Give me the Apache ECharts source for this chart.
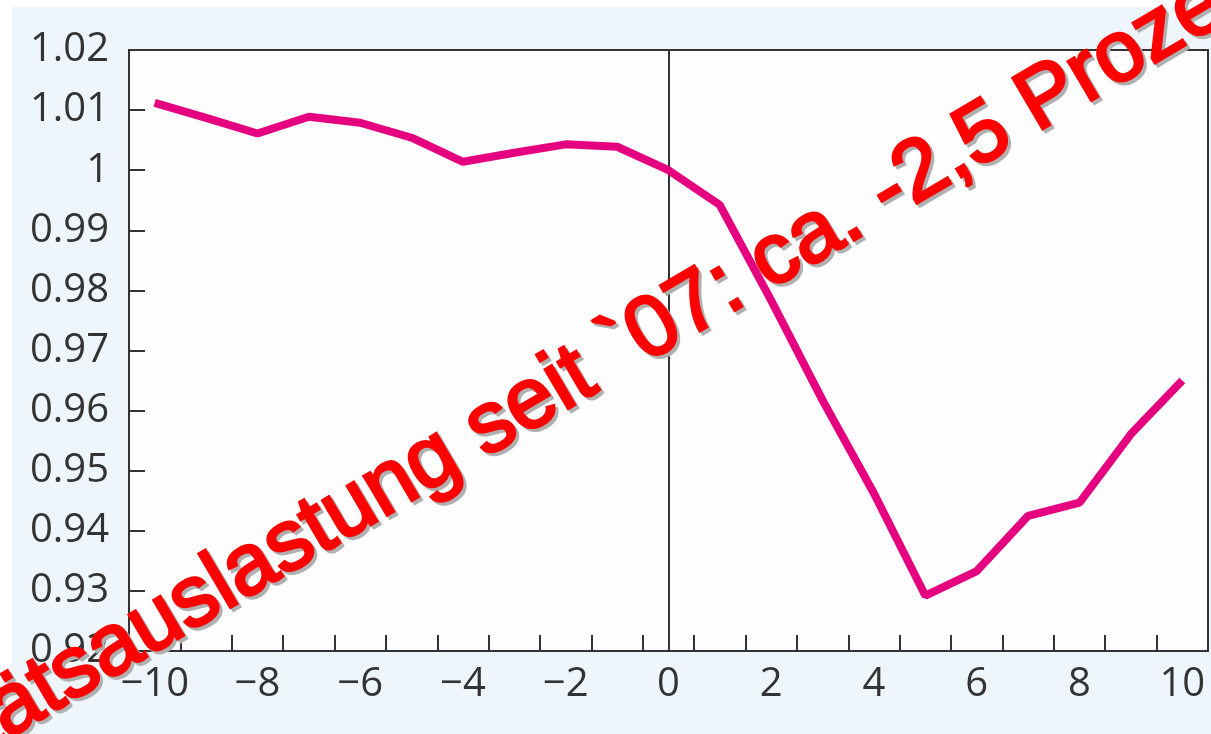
<!DOCTYPE html>
<html>
<head>
<meta charset="utf-8">
<script src="https://cdn.jsdelivr.net/npm/echarts@6/dist/echarts.min.js"></script>
<style>
  html, body { margin: 0; padding: 0; background: #ffffff; }
  #bg { position: absolute; left: 12px; top: 7px; width: 1199px; height: 727px; background: #eef6fc; }
  #chart { position: absolute; left: 0; top: 0; width: 1211px; height: 734px; }
</style>
</head>
<body>
<div id="bg"></div>
<div id="chart"></div>
<script>
// Data
const categories = ['\u221210','\u22129','\u22128','\u22127','\u22126','\u22125','\u22124','\u22123','\u22122','\u22121','0','1','2','3','4','5','6','7','8','9','10'];
const values = [1.0112, 1.0087, 1.0061, 1.0089, 1.0079, 1.0054, 1.0014, 1.0029, 1.0043, 1.0039, 1.0000,
                0.9942, 0.9783, 0.9617, 0.9462, 0.9292, 0.9333, 0.9425, 0.9447, 0.9561, 0.9650];
const yMin = 0.92;
const yMax = 1.02;
const yStep = 0.01;
const markerCategory = '0';
const overlayText = 'Kapazitätsauslastung seit `07: ca. -2,5 Prozent';

const chart = echarts.init(document.getElementById('chart'), null, { renderer: 'canvas' });
const labelFont = '"Open Sans", "Noto Sans", sans-serif';

const textX = 514, textY = 413, textAngle = 30.5 * Math.PI / 180;
function overlayStyle(color) {
  return {
    text: overlayText,
    fontFamily: '"Liberation Sans", Arial, sans-serif',
    fontWeight: 'normal',
    fontSize: 86,
    fill: color,
    stroke: color,
    lineWidth: 3,
    align: 'center',
    verticalAlign: 'middle'
  };
}

chart.setOption({
  backgroundColor: 'transparent',
  animation: false,
  grid: {
    left: 129, right: 3, top: 50, bottom: 83,
    show: true,
    backgroundColor: '#fefefe',
    borderColor: '#333333',
    borderWidth: 2
  },
  xAxis: {
    type: 'category',
    data: categories,
    boundaryGap: true,
    axisLine: { show: true, lineStyle: { color: '#333333', width: 2 } },
    axisTick: { show: true, inside: true, length: 16, interval: 0, alignWithLabel: false,
                lineStyle: { color: '#333333', width: 2 } },
    axisLabel: { interval: 1, margin: 14, fontSize: 40, color: '#333333', fontFamily: labelFont },
    splitLine: { show: false }
  },
  yAxis: {
    type: 'value',
    min: yMin, max: yMax, interval: yStep,
    axisLine: { show: true, lineStyle: { color: '#333333', width: 2 } },
    axisTick: { show: true, inside: true, length: 16, lineStyle: { color: '#333333', width: 2 } },
    axisLabel: { margin: 20, fontSize: 40, color: '#333333', fontFamily: labelFont },
    splitLine: { show: false }
  },
  series: [{
    type: 'line',
    data: values,
    showSymbol: false,
    symbol: 'none',
    lineStyle: { color: '#e5007f', width: 8 },
    z: 3,
    markLine: {
      silent: true,
      symbol: ['none', 'none'],
      label: { show: false },
      lineStyle: { color: '#333333', width: 2, type: 'solid' },
      data: [{ xAxis: markerCategory }],
      z: 2
    }
  }],
  graphic: [{
    type: 'text',
    x: textX + 3,
    y: textY + 3,
    rotation: textAngle,
    z: 99,
    style: overlayStyle('#b0b0b0')
  }, {
    type: 'text',
    x: textX,
    y: textY,
    rotation: textAngle,
    z: 100,
    style: overlayStyle('#ff0000')
  }]
});
</script>
</body>
</html>
